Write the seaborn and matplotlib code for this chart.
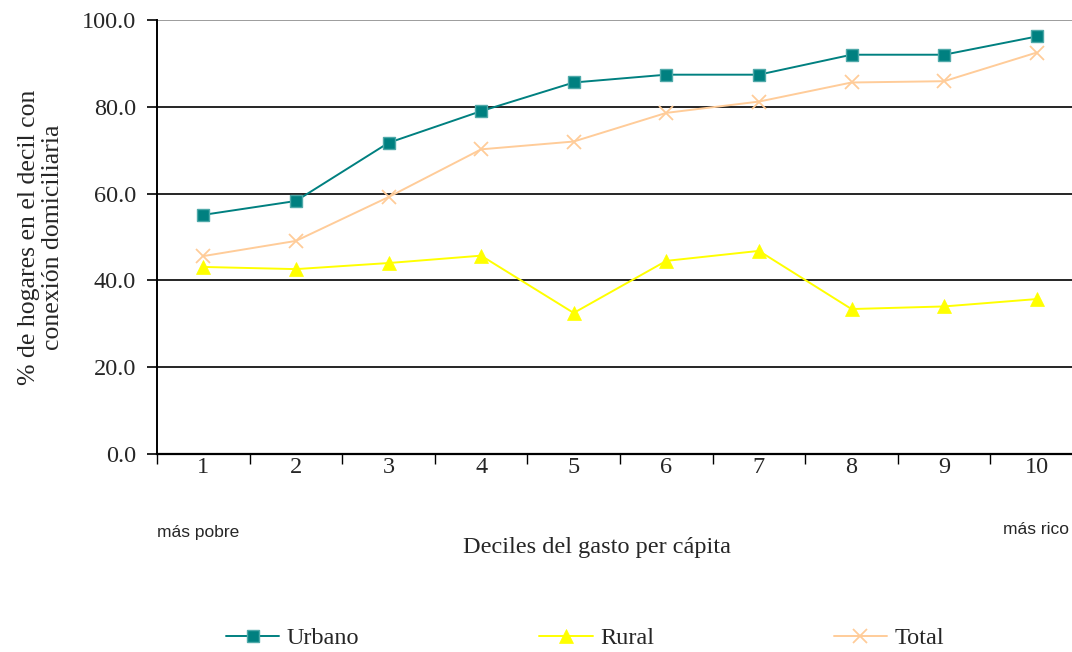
import numpy as np
import pandas as pd
import matplotlib
matplotlib.use("Agg")
import matplotlib.pyplot as plt
from matplotlib.ticker import FixedLocator, FormatStrFormatter
import seaborn as sns

# Household connection rate by expenditure decile
deciles = [1, 2, 3, 4, 5, 6, 7, 8, 9, 10]
urbano = [55.1, 58.3, 71.7, 79.0, 85.6, 87.4, 87.4, 92.0, 92.0, 96.2]
rural = [43.1, 42.6, 44.0, 45.7, 32.5, 44.5, 46.8, 33.4, 34.0, 35.7]
total = [45.6, 49.1, 59.2, 70.2, 72.0, 78.6, 81.2, 85.6, 85.9, 92.5]
series_names = ["Urbano", "Rural", "Total"]
y_ticks = [0, 20, 40, 60, 80, 100]

df = pd.DataFrame({"decil": deciles, "Urbano": urbano, "Rural": rural, "Total": total})
long_df = df.melt(id_vars="decil", var_name="serie", value_name="pct")

sns.set_style("white")
plt.rcParams["font.family"] = ["Liberation Serif", "DejaVu Serif"]

W, H = 1072, 652
fig = plt.figure(figsize=(W / 100, H / 100), dpi=100)
ax = fig.add_axes([157 / W, 1 - 454 / H, 926 / W, 434 / H])

styles = {
    "Urbano": dict(color="#008080", marker="s", markersize=8.5, markeredgecolor="#4FA9A9",
                   markeredgewidth=1.0, linewidth=1.4),
    "Rural": dict(color="#FFFF00", marker="^", markersize=10.5, markeredgecolor="#FFFF00",
                  markeredgewidth=0.5, linewidth=1.4),
    "Total": dict(color="#FFCC99", marker="x", markersize=10, markeredgecolor="#FFCC99",
                  markeredgewidth=1.3, linewidth=1.4),
}

for name in series_names:
    sub = long_df[long_df["serie"] == name]
    sns.lineplot(data=sub, x="decil", y="pct", ax=ax, label=name, zorder=3, **styles[name])

ax.set_xlim(0.5, 10.5)
ax.set_ylim(0, 100)

# y axis
ax.yaxis.set_major_locator(FixedLocator(y_ticks))
ax.yaxis.set_major_formatter(FormatStrFormatter("%.1f"))
ax.tick_params(axis="y", which="major", direction="out", length=7, width=1.2,
               color="black", labelsize=17.5, pad=8, left=True)

# x axis: tick marks between categories, labels at category centres
ax.xaxis.set_major_locator(FixedLocator(np.arange(0.5, 11, 1.0)))
ax.xaxis.set_minor_locator(FixedLocator(deciles))
ax.set_xticklabels([])
ax.set_xticklabels([str(d) for d in deciles], minor=True)
ax.tick_params(axis="x", which="major", direction="out", length=7, width=1.0,
               color="black", bottom=True, labelbottom=False)
ax.tick_params(axis="x", which="minor", length=0, labelsize=17.5, pad=2, bottom=True)

# horizontal gridlines
for v in y_ticks[1:]:
    ax.axhline(v, color="black" if v < 100 else "#8C8C8C", linewidth=1.2, zorder=1)
ax.grid(False)

for side in ["top", "right"]:
    ax.spines[side].set_visible(False)
ax.spines["left"].set_color("black")
ax.spines["left"].set_linewidth(1.4)
ax.spines["bottom"].set_color("black")
ax.spines["bottom"].set_linewidth(1.6)

ax.set_ylabel("% de hogares en el decil con\nconexión domiciliaria", fontsize=18.5,
              linespacing=1.15)
ax.yaxis.set_label_coords((41 - 157) / 926, 0.5)
ax.yaxis.label.set_va("center")
ax.set_xlabel("Deciles del gasto per cápita", fontsize=17.5)
ax.xaxis.set_label_coords((597 - 157) / 926, (454 - 548) / 434)
ax.xaxis.label.set_va("center")

fig.text(157 / W, 1 - 533 / H, "más pobre", ha="left", va="center",
         fontsize=12.5, family=["Liberation Sans", "DejaVu Sans"])
fig.text(1069 / W, 1 - 530 / H, "más rico", ha="right", va="center",
         fontsize=12.5, family=["Liberation Sans", "DejaVu Sans"])

handles, labels = ax.get_legend_handles_labels()
ax.get_legend().remove()
fig.legend(handles, labels, loc="center", bbox_to_anchor=(585 / W, 1 - 638 / H),
           ncol=3, frameon=False, fontsize=17.5, columnspacing=7.4,
           handlelength=2.2, handletextpad=0.3)

fig.savefig("out.png", dpi=100)
